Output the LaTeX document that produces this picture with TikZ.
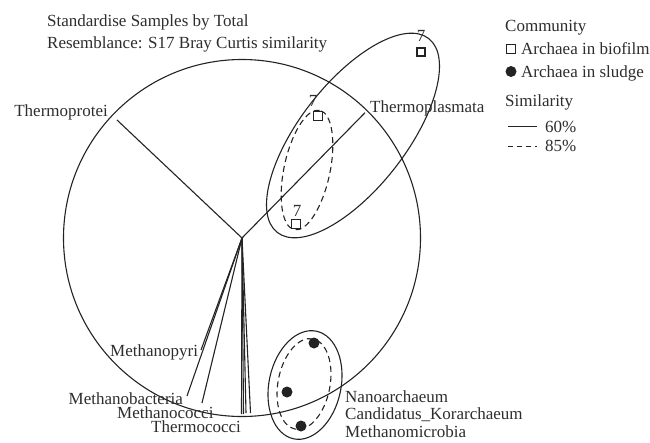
\documentclass[tikz,border=0pt]{standalone}
\usepackage{fontspec}
\setmainfont{Liberation Serif}
\definecolor{inkc}{RGB}{35,35,35}
\definecolor{txtc}{RGB}{45,45,45}
\begin{document}
\begin{tikzpicture}[x=1pt,y=-1pt,
  font=\fontsize{17}{20}\selectfont,
  lbl/.style={anchor=base west, inner sep=0pt, text=txtc},
  lblr/.style={anchor=base east, inner sep=0pt, text=txtc},
  seven/.style={anchor=base, inner sep=0pt, text=txtc},
  sqmark/.style={draw=inkc, fill=white, rectangle, minimum size=9pt, inner sep=0pt, line width=1pt},
  sqbold/.style={sqmark, line width=1.7pt, minimum size=8.5pt},
  dotmark/.style={circle, fill=inkc, minimum size=11pt, inner sep=0pt},
  branch/.style={draw=inkc, line width=1.1pt},
  grp/.style={draw=inkc, line width=1.1pt},
  subgrp/.style={draw=inkc, line width=1.1pt, dash pattern=on 6pt off 4pt},
  legdash/.style={draw=inkc, line width=1.1pt, dash pattern=on 5pt off 4pt}]
\useasboundingbox (0,0) rectangle (650,442);

% title
\node[lbl] (t1) at (47,26.7) {Standardise Samples by Total};
\node[lbl] (t2) at (47,48) {Resemblance: S17 Bray Curtis similarity};

% big 60% circle
\coordinate (root) at (242,238);
\draw[grp] (root) circle [radius=178.5pt];

% groups on the right
\coordinate (e1c) at (353,135.5);
\draw[grp, rotate around={52:(e1c)}] (e1c) ellipse [x radius=123pt, y radius=53pt];
\coordinate (e2c) at (307,170);
\draw[subgrp, rotate around={78:(e2c)}] (e2c) ellipse [x radius=61pt, y radius=23pt];
\coordinate (e3c) at (305,385);
\draw[grp, rotate around={78:(e3c)}] (e3c) ellipse [x radius=55pt, y radius=36pt];
\coordinate (e4c) at (304,384);
\draw[subgrp, rotate around={79:(e4c)}] (e4c) ellipse [x radius=46pt, y radius=26pt];

% tree branches
\coordinate (eProtei) at (117,120);
\coordinate (ePlasma) at (365,112.7);
\coordinate (ePyri) at (201,350);
\coordinate (eBact) at (187,396);
\coordinate (eCocci) at (202,403);
\coordinate (eV1) at (241.5,414);
\coordinate (eV2) at (243.5,414);
\coordinate (eV3) at (246,413);
\coordinate (eV4) at (250.5,413);
\foreach \e in {eProtei,ePlasma,ePyri,eBact,eCocci,eV1,eV2,eV3,eV4}
  \draw[branch] (root) -- (\e);

% leaf labels
\node[lblr] (lProtei) at (108,116) {Thermoprotei};
\node[lbl] (lPlasma) at (370,112.7) {Thermoplasmata};
\node[lbl] (lPyri) at (110,356) {Methanopyri};
\node[lbl] (lBact) at (68.5,404) {Methanobacteria};
\node[lbl] (lCocci) at (117,418) {Methanococci};
\node[lbl] (lThermo) at (151,432) {Thermococci};
\node[lbl] (lNano) at (345,402) {Nanoarchaeum};
\node[lbl] (lKor) at (345,419.5) {Candidatus\_Korarchaeum};
\node[lbl] (lMicro) at (345,437) {Methanomicrobia};

% samples
\node[sqbold] (s1) at (421,52) {};
\node[seven] (n1) at (421,41.7) {7};
\node[sqmark] (s2) at (318,116) {};
\node[seven] (n2) at (313,106.7) {7};
\node[sqmark] (s3) at (296,223.5) {};
\node[seven] (n3) at (297,216) {7};
\node[dotmark] (d1) at (314,343) {};
\node[dotmark] (d2) at (287,392) {};
\node[dotmark] (d3) at (301,426) {};

% legend
\node[lbl] (lgC) at (505,31) {Community};
\node[sqmark] (lgSq) at (510.5,49) {};
\node[lbl] (lgBio) at (521,54.3) {Archaea in biofilm};
\node[dotmark] (lgDot) at (511,71.5) {};
\node[lbl] (lgSlu) at (521,77.3) {Archaea in sludge};
\node[lbl] (lgS) at (505,106.7) {Similarity};
\coordinate (lgA1) at (508,126.7);
\coordinate (lgA2) at (537,126.7);
\draw[branch] (lgA1) -- (lgA2);
\node[lbl] (lg60) at (545,132.3) {60\%};
\coordinate (lgB1) at (508,146.7);
\coordinate (lgB2) at (537,146.7);
\draw[legdash] (lgB1) -- (lgB2);
\node[lbl] (lg85) at (545,151.7) {85\%};
\end{tikzpicture}
\end{document}
